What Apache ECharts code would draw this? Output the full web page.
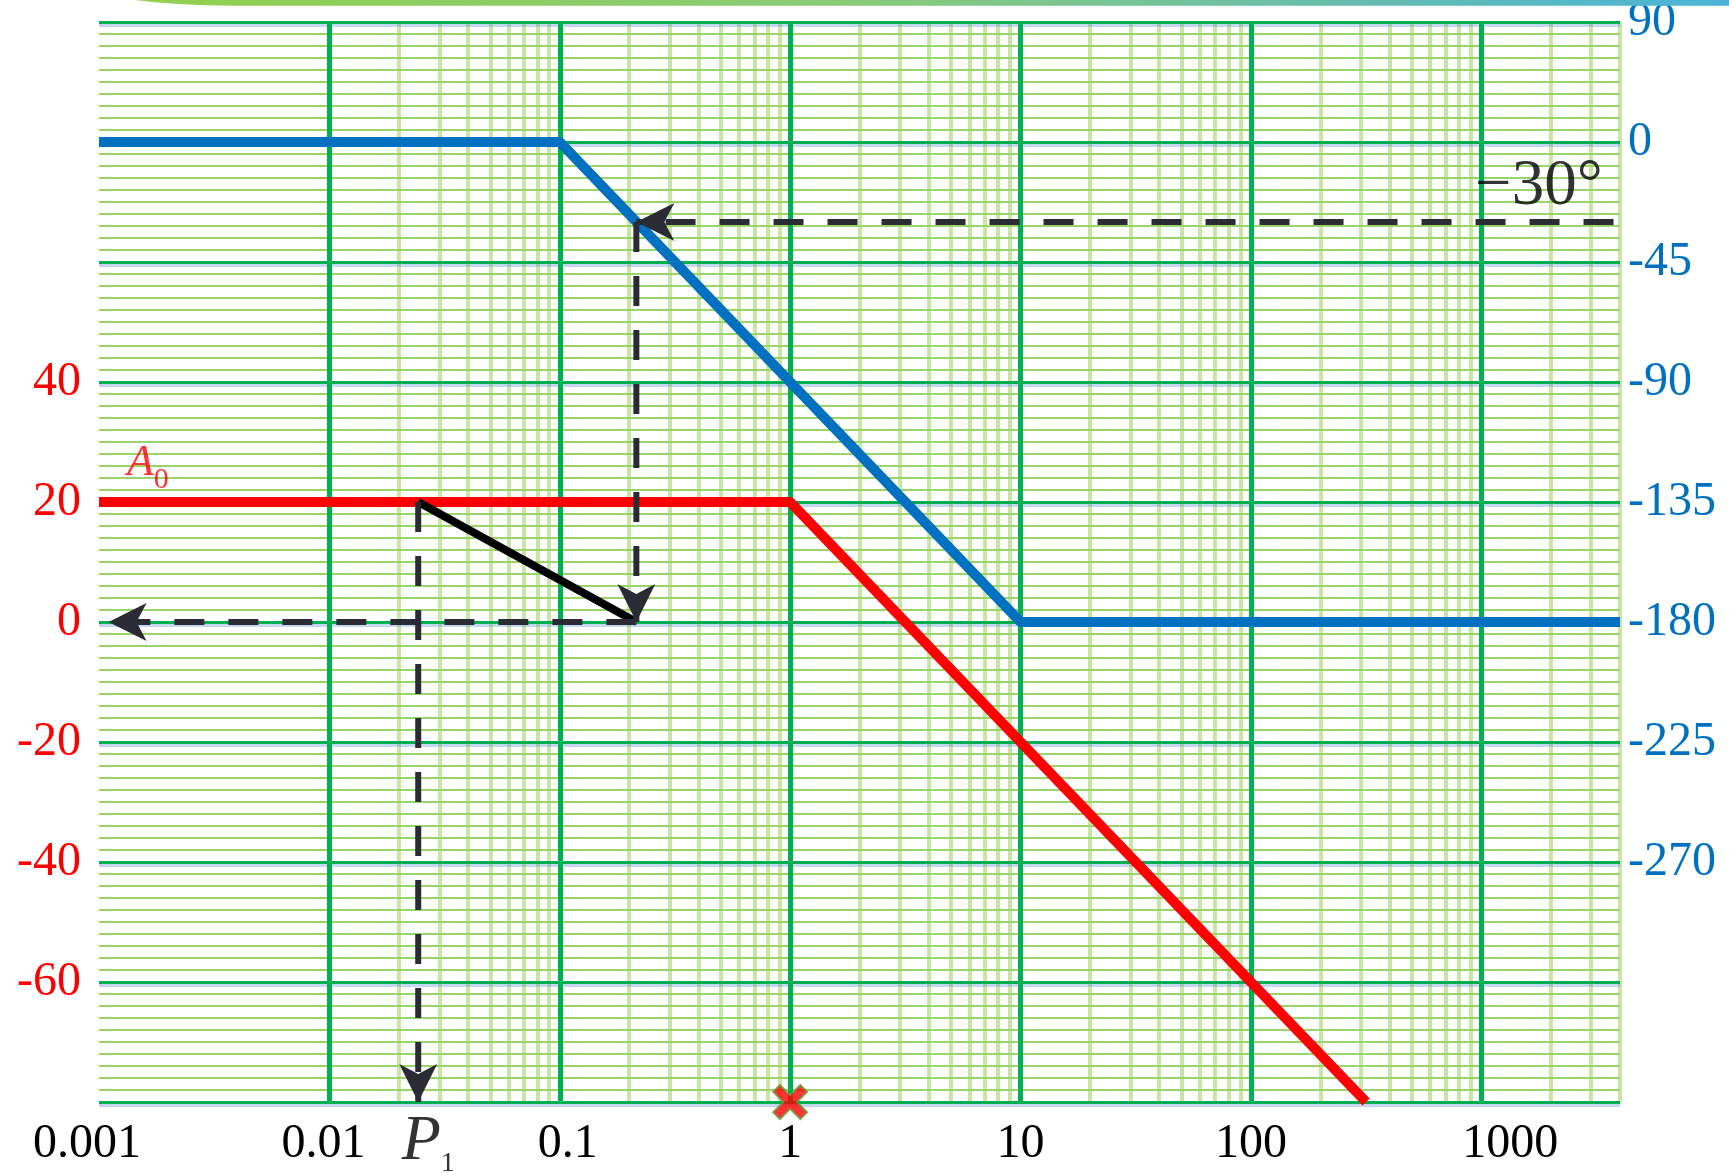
<!DOCTYPE html>
<html>
<head>
<meta charset="utf-8">
<title>Bode</title>
<script src="https://cdn.jsdelivr.net/npm/echarts@6/dist/echarts.min.js"></script>
<style>
  html, body { margin: 0; padding: 0; background: #fff; }
  #chart { width: 1729px; height: 1173px; }
</style>
</head>
<body>
<div id="chart"></div>
<script>
// 频率轴 (log)
var freqTicks = [0.001, 0.01, 0.1, 1, 10, 100, 1000];
var freqTickLabels = ['0.001', '0.01', '0.1', '1', '10', '100', '1000'];
var minorSteps = [2, 3, 4, 5, 6, 7, 8, 9];
var freqMax = 4000;

// 左轴 dB, 右轴 相位
var magTickValues = [40, 20, 0, -20, -40, -60];
var phaseTickValues = [45, 0, -45, -90, -135, -180, -225, -270];
var phaseTickLabels = ['90', '0', '-45', '-90', '-135', '-180', '-225', '-270'];

// 幅频渐近线
var magFreq = [0.001, 1, 316.2];
var magDb = [20, 20, -80];
// 相频渐近线
var phaseFreq = [0.001, 0.1, 10, 4000];
var phaseDeg = [0, 0, -180, -180];

// 作图辅助线
var p1Freq = 0.0243;
var crossFreq = 0.215;
var slopeLine = [[p1Freq, 20], [crossFreq, 0]];
var dropP1 = [[p1Freq, 20], [p1Freq, -80]];
var backToAxis = [[crossFreq, 0], [0.0011, 0]];
var phaseDrop = [[crossFreq, -30], [crossFreq, -180]];
var phaseRead = [[3750, -30], [crossFreq, -30]];
var zeroMark = [[1, -80]];

// 文字标注位置
var a0Pos = [0.00163, 26.4];
var p1Pos = [p1Freq, -80];
var angleTextPos = [1778, -17];

var serif = "'Liberation Serif', 'Times New Roman', serif";
var dark = '#2b2b35';
var ARROW = 'path://M0,0 L19,38 L0,28 L-19,38 Z';
var CROSS = 'path://M2,0 L5,3 L8,0 L10,2 L7,5 L10,8 L8,10 L5,7 L2,10 L0,8 L3,5 L0,2 Z';

function zip(xs, ys) {
  return xs.map(function (x, i) { return [x, ys[i]]; });
}

function dashSeries(points, yIdx, dir) {
  var data = points.map(function (p, i) {
    if (i < points.length - 1) return { value: p, symbol: 'none' };
    return {
      value: p,
      symbol: ARROW,
      symbolSize: [38, 38],
      symbolKeepAspect: true,
      symbolRotate: dir == 'down' ? 180 : 90,
      symbolOffset: dir == 'down' ? [0, -19] : [19, 0]
    };
  });
  return {
    type: 'line',
    yAxisIndex: yIdx,
    data: data,
    showSymbol: true,
    symbol: 'none',
    clip: false,
    silent: true,
    z: 6,
    lineStyle: { color: dark, width: 6, type: [30, 24] },
    itemStyle: { color: dark, borderWidth: 0 }
  };
}

function textSeries(pos, yIdx, text, rich, offset) {
  return {
    type: 'scatter',
    yAxisIndex: yIdx,
    data: [pos],
    symbolSize: 1,
    silent: true,
    clip: false,
    z: 8,
    itemStyle: { color: 'rgba(0,0,0,0)' },
    label: {
      show: true,
      position: 'inside',
      offset: offset,
      formatter: text,
      rich: rich
    }
  };
}

var minorLines = [];
freqTicks.forEach(function (d) {
  minorSteps.forEach(function (k) {
    if (k * d <= freqMax + 1e-9) minorLines.push({ xAxis: k * d });
  });
});
// 最左一条落在 min 上, 稍往里挪避免被过滤
var majorLines = freqTicks.map(function (v) { return { xAxis: v * (1 + 1e-9) }; });

// 边缘刻度文字略微偏移
var labelNudge = { '0.001': [0, 24, 0, 0], '0.01': [0, 12, 0, 0], '0.1': [0, 0, 0, 16], '1000': [0, 0, 0, 58] };

var chart = echarts.init(document.getElementById('chart'));
var option = {
  animation: false,
  backgroundColor: '#fff',
  grid: { left: 99, right: 109, top: 22, bottom: 71, containLabel: false, outerBoundsMode: 'none' },
  xAxis: {
    type: 'log',
    logBase: 10,
    min: 0.001,
    max: freqMax,
    z: 1,
    axisLine: { show: false },
    axisTick: { show: false },
    splitLine: { show: false },
    axisLabel: {
      interval: 0,
      margin: 18,
      color: '#000',
      fontFamily: serif,
      fontSize: 48,
      formatter: function (v) {
        for (var i = 0; i < freqTicks.length; i++) {
          if (Math.abs(freqTicks[i] - v) / v < 1e-6) {
            var t = freqTickLabels[i];
            return labelNudge[t] ? '{' + 'n' + i + '|' + t + '}' : t;
          }
        }
        return '';
      },
      rich: {
        n0: { padding: labelNudge['0.001'] },
        n1: { padding: labelNudge['0.01'] },
        n2: { padding: labelNudge['0.1'] },
        n6: { padding: labelNudge['1000'] }
      }
    }
  },
  yAxis: [
    {
      type: 'value',
      position: 'left',
      min: -80,
      max: 100,
      interval: 20,
      z: 1,
      axisLine: { show: false },
      axisTick: { show: false },
      axisLabel: {
        color: '#ff0000',
        fontFamily: serif,
        fontSize: 48,
        margin: 18,
        formatter: function (v) {
          return magTickValues.indexOf(v) >= 0 ? String(v) : '';
        }
      },
      splitLine: {
        show: true,
        lineStyle: { color: '#00b050', width: 3, shadowColor: 'rgba(90,140,220,0.35)', shadowOffsetY: 3 }
      },
      minorTick: { show: false, splitNumber: 10 },
      minorSplitLine: { show: true, lineStyle: { color: '#9cd567', width: 2 } }
    },
    {
      type: 'value',
      position: 'right',
      min: -360,
      max: 45,
      interval: 45,
      z: 1,
      axisLine: { show: false },
      axisTick: { show: false },
      splitLine: { show: false },
      axisLabel: {
        color: '#0070c0',
        fontFamily: serif,
        fontSize: 48,
        margin: 8,
        formatter: function (v) {
          var i = phaseTickValues.indexOf(v);
          return i >= 0 ? phaseTickLabels[i] : '';
        }
      }
    }
  ],
  graphic: [
    {
      type: 'polygon',
      z: 10,
      silent: true,
      shape: { points: [[135, 0], [155, 2.2], [178, 4], [205, 5.2], [235, 5.8], [1729, 5.8], [1729, 0]] },
      style: {
        fill: {
          type: 'linear', x: 0, y: 0, x2: 1, y2: 0,
          colorStops: [
            { offset: 0, color: '#92d050' },
            { offset: 0.45, color: '#8acb78' },
            { offset: 1, color: '#4bb3d8' }
          ]
        }
      }
    }
  ],
  series: [
    {
      type: 'line',
      data: [],
      silent: true,
      markLine: {
        z: 0,
        silent: true,
        symbol: ['none', 'none'],
        label: { show: false },
        lineStyle: { color: 'rgba(146,208,80,0.5)', width: 4, type: 'solid' },
        emphasis: { disabled: true },
        data: minorLines
      }
    },
    {
      type: 'line',
      data: [],
      silent: true,
      markLine: {
        z: 2,
        silent: true,
        symbol: ['none', 'none'],
        label: { show: false },
        lineStyle: { color: '#00b050', width: 5, type: 'solid' },
        emphasis: { disabled: true },
        data: majorLines
      }
    },
    {
      type: 'line',
      yAxisIndex: 0,
      data: zip(magFreq, magDb),
      symbol: 'none',
      silent: true,
      z: 3,
      lineStyle: { color: '#ff0000', width: 10 }
    },
    {
      type: 'line',
      yAxisIndex: 1,
      data: zip(phaseFreq, phaseDeg),
      symbol: 'none',
      silent: true,
      z: 3,
      lineStyle: { color: '#0070c0', width: 10 }
    },
    {
      type: 'line',
      yAxisIndex: 0,
      data: slopeLine,
      symbol: 'none',
      silent: true,
      clip: false,
      z: 5,
      lineStyle: { color: '#000', width: 8 }
    },
    dashSeries(dropP1, 0, 'down'),
    dashSeries(backToAxis, 0, 'left'),
    dashSeries(phaseDrop, 1, 'down'),
    dashSeries(phaseRead, 1, 'left'),
    {
      type: 'scatter',
      yAxisIndex: 0,
      data: zeroMark,
      symbol: CROSS,
      symbolSize: 34,
      symbolKeepAspect: true,
      clip: false,
      silent: true,
      z: 7,
      itemStyle: { color: '#ff0000', borderColor: '#6b9a3a', borderWidth: 2 }
    },
    textSeries(a0Pos, 0, '{a|A}{s|0}', {
      a: { fontFamily: serif, fontStyle: 'italic', fontSize: 44, lineHeight: 44, color: '#ff0000', verticalAlign: 'top' },
      s: { fontFamily: serif, fontSize: 30, lineHeight: 30, color: '#ff0000', verticalAlign: 'top', padding: [24, 0, 0, 0] }
    }, [0, 0]),
    textSeries(p1Pos, 0, '{p|P}{s|1}', {
      p: { fontFamily: serif, fontStyle: 'italic', fontSize: 64, lineHeight: 64, color: '#000', verticalAlign: 'top' },
      s: { fontFamily: serif, fontSize: 28, lineHeight: 28, color: '#000', verticalAlign: 'top', padding: [40, 0, 0, 0] }
    }, [10, 40]),
    textSeries(angleTextPos, 1, '{t|\u221230\u00b0}', {
      t: { fontFamily: serif, fontSize: 65, lineHeight: 66, color: '#000' }
    }, [0, 0])
  ]
};
chart.setOption(option);
</script>
</body>
</html>
